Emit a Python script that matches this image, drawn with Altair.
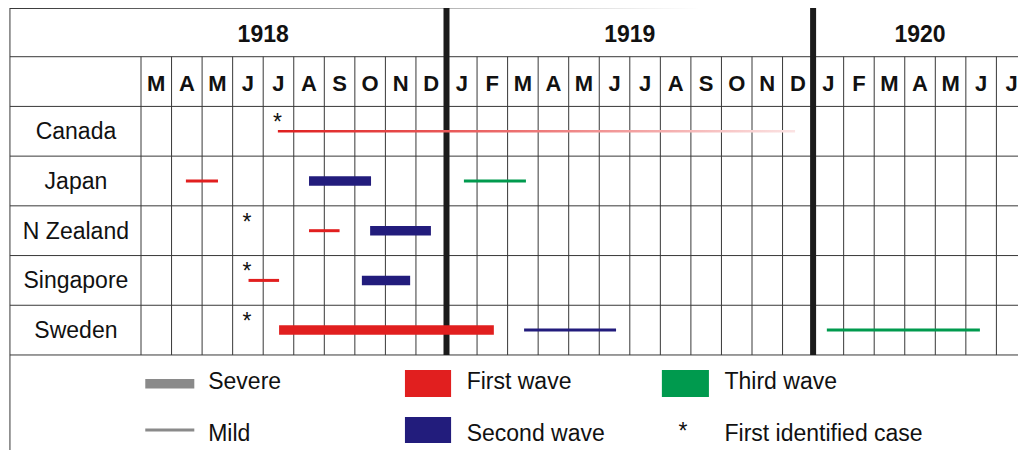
import altair as alt
import pandas as pd

# ---------------- data ----------------
years = ["1918", "1919", "1920"]
year_label_month = [4.0, 16.0, 25.5]          # where each year title sits (month units)
year_breaks = [10, 22]                         # month index of 1 Jan 1919 and 1 Jan 1920
month_labels = list("MAMJJASOND") + list("JFMAMJJASOND") + list("JFMAMJJ")
countries = ["Canada", "Japan", "N Zealand", "Singapore", "Sweden"]

waves = ["First wave", "Second wave", "Third wave"]
wave_colors = ["#e11f1f", "#221c7c", "#009a4e"]
severities = ["Severe", "Mild"]

# epidemic episodes, months counted from 1 March 1918
ep_country = ["Canada", "Japan", "Japan", "Japan", "N Zealand", "N Zealand",
              "Singapore", "Singapore", "Sweden", "Sweden", "Sweden"]
ep_wave = ["First wave", "First wave", "Second wave", "Third wave", "First wave",
           "Second wave", "First wave", "Second wave", "First wave", "Second wave",
           "Third wave"]
ep_severity = ["Mild", "Mild", "Severe", "Mild", "Mild", "Severe", "Mild", "Severe",
               "Severe", "Mild", "Mild"]
ep_start = [4.48, 1.47, 5.50, 10.57, 5.50, 7.50, 3.52, 7.23, 4.52, 12.54, 22.45]
ep_end = [21.41, 2.52, 7.53, 12.60, 6.50, 9.49, 4.52, 8.81, 11.55, 15.55, 27.46]
ep_fading = [True, False, False, False, False, False, False, False, False, False, False]

first_case_country = ["Canada", "N Zealand", "Singapore", "Sweden"]
first_case_month = [4.5, 3.5, 3.5, 3.5]

# ---------------- layout ----------------
W, H = 1010, 442
PXM = 30.55          # pixels per month
PXR = 49.71          # pixels per table row
X0 = 133.0           # chart x of the start of March 1918
Y0 = -1.0            # chart y of the table top
LEFT = -4.29         # left border, month units
N_MONTHS = len(month_labels)
FONT = "Liberation Sans"
INK = "#111111"
GRID = "#383838"

xs = alt.Scale(domain=[(0 - X0) / PXM, (W - X0) / PXM], nice=False, zero=False)
ys = alt.Scale(domain=[(0 - Y0) / PXR, (H - Y0) / PXR], nice=False, zero=False, reverse=True)


def X(f):
    return alt.X(f"{f}:Q", scale=xs, axis=None)


def X2(f):
    return alt.X2(f"{f}:Q")


def Y(f):
    return alt.Y(f"{f}:Q", scale=ys, axis=None)


def Y2(f):
    return alt.Y2(f"{f}:Q")


row_of = {c: i + 2 for i, c in enumerate(countries)}

# grid
hlines = pd.DataFrame({"x": LEFT, "x2": N_MONTHS + 1.0, "y": list(range(1, 8))})
hlines["y2"] = hlines["y"]
top_line = pd.DataFrame({"x": [LEFT], "x2": [N_MONTHS + 1.0], "y": [0], "y2": [0]})
vl = [m for m in range(0, N_MONTHS) if m not in year_breaks]
vlines = pd.DataFrame({"x": vl, "y": 1, "y2": 7})
vlines["x2"] = vlines["x"]
left_border = pd.DataFrame({"x": [LEFT], "x2": [LEFT], "y": [0], "y2": [10]})
thick = pd.DataFrame({"x": year_breaks, "x2": year_breaks, "y": 0, "y2": 7})

grid_layers = [
    alt.Chart(hlines).mark_rule(color=GRID, strokeWidth=1).encode(x=X("x"), x2=X2("x2"), y=Y("y"), y2=Y2("y2")),
    alt.Chart(top_line).mark_rule(color=GRID, strokeWidth=1, yOffset=1.5).encode(x=X("x"), x2=X2("x2"), y=Y("y"), y2=Y2("y2")),
    alt.Chart(vlines).mark_rule(color=GRID, strokeWidth=1).encode(x=X("x"), x2=X2("x2"), y=Y("y"), y2=Y2("y2")),
    alt.Chart(left_border).mark_rule(color=GRID, strokeWidth=1).encode(x=X("x"), x2=X2("x2"), y=Y("y"), y2=Y2("y2")),
    alt.Chart(thick).mark_rule(color="#1b1b1b", strokeWidth=6).encode(x=X("x"), x2=X2("x2"), y=Y("y"), y2=Y2("y2")),
]

# header texts
year_df = pd.DataFrame({"label": years, "x": year_label_month, "y": 0.5})
month_df = pd.DataFrame({"label": month_labels, "x": [i + 0.5 for i in range(N_MONTHS)], "y": 1.5})
country_df = pd.DataFrame({"label": countries, "x": -2.13, "y": [row_of[c] + 0.5 for c in countries]})

text_layers = [
    alt.Chart(year_df).mark_text(font=FONT, fontSize=23, fontWeight="bold", color=INK, baseline="middle", dy=3)
    .encode(x=X("x"), y=Y("y"), text="label:N"),
    alt.Chart(month_df).mark_text(font=FONT, fontSize=22, fontWeight="bold", color=INK, baseline="middle", dy=2.5)
    .encode(x=X("x"), y=Y("y"), text="label:N"),
    alt.Chart(country_df).mark_text(font=FONT, fontSize=23, color=INK, baseline="middle", dy=1)
    .encode(x=X("x"), y=Y("y"), text="label:N"),
]

# episodes
ep = pd.DataFrame({"country": ep_country, "wave": ep_wave, "severity": ep_severity,
                   "start": ep_start, "end": ep_end, "fading": ep_fading})
ep["y"] = [row_of[c] + 0.5 for c in ep["country"]]
solid = ep[~ep["fading"]]
fade = ep[ep["fading"]].copy()
half = 1.25 / PXR
fade["y1"] = fade["y"] - half
fade["y2"] = fade["y"] + half

color_enc = alt.Color("wave:N", scale=alt.Scale(domain=waves, range=wave_colors), legend=None)
sw_enc = alt.StrokeWidth("severity:O", scale=alt.Scale(domain=severities, range=[9.5, 3]), legend=None)

episode_layers = [
    alt.Chart(solid).mark_rule(strokeCap="butt").encode(
        x=X("start"), x2=X2("end"), y=Y("y"), color=color_enc, strokeWidth=sw_enc),
    alt.Chart(fade).mark_rect(
        fill=alt.LinearGradient(
            gradient="linear", x1=0, x2=1, y1=0, y2=0,
            stops=[alt.GradientStop(color="#df1f1f", offset=0),
                   alt.GradientStop(color="#ec6e6e", offset=0.45),
                   alt.GradientStop(color="#fbe3e3", offset=1)]),
        stroke=None,
    ).encode(x=X("start"), x2=X2("end"), y=Y("y1"), y2=Y2("y2")),
]

stars = pd.DataFrame({"x": first_case_month, "y": [row_of[c] for c in first_case_country], "t": "*"})
star_layer = alt.Chart(stars).mark_text(font=FONT, fontSize=23, color=INK, baseline="middle", dy=16.7, dx=-1).encode(
    x=X("x"), y=Y("y"), text="t:N")

# legend (drawn in grid units)
leg_sev = pd.DataFrame({"severity": severities, "x": 0.14, "x2": 1.745, "y": [7.578, 8.509]})
leg_sev_layer = alt.Chart(leg_sev).mark_rule(color="#8a8a8a", strokeCap="butt").encode(
    x=X("x"), x2=X2("x2"), y=Y("y"), strokeWidth=sw_enc)

leg_wave = pd.DataFrame({"wave": waves, "x": [8.64, 8.64, 17.05], "x2": [10.15, 10.15, 18.59],
                         "y": [7.302, 8.248, 7.302], "y2": [7.845, 8.771, 7.845]})
leg_wave_layer = alt.Chart(leg_wave).mark_rect().encode(
    x=X("x"), x2=X2("x2"), y=Y("y"), y2=Y2("y2"), color=color_enc)

leg_text = pd.DataFrame({
    "label": ["Severe", "Mild", "First wave", "Second wave", "Third wave", "First identified case"],
    "x": [2.2, 2.2, 10.66, 10.66, 19.1, 19.1],
    "y": [7.544, 8.59, 7.544, 8.59, 7.544, 8.59],
})
leg_text_layer = alt.Chart(leg_text).mark_text(font=FONT, fontSize=23, color=INK, baseline="middle", align="left").encode(
    x=X("x"), y=Y("y"), text="label:N")
leg_star = pd.DataFrame({"x": [17.74], "y": [8.544], "t": ["*"]})
leg_star_layer = alt.Chart(leg_star).mark_text(font=FONT, fontSize=23, color=INK, baseline="middle").encode(
    x=X("x"), y=Y("y"), text="t:N")

chart = alt.layer(
    *grid_layers, *episode_layers, *text_layers, star_layer,
    leg_sev_layer, leg_wave_layer, leg_text_layer, leg_star_layer,
).properties(
    width=W, height=H, padding=0, autosize=alt.AutoSizeParams(type="none"), background="white",
).configure_view(stroke=None)

chart.save("out.html", embed_options={"renderer": "svg", "actions": False})
